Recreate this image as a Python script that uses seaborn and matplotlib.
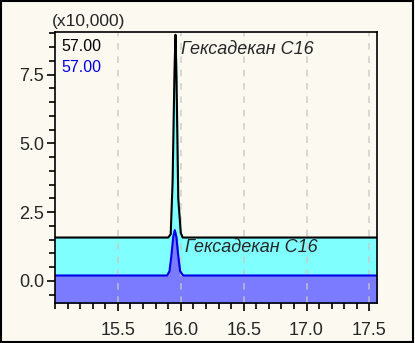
import matplotlib
matplotlib.use("Agg")
import matplotlib.pyplot as plt
import seaborn as sns
import pandas as pd
from matplotlib.ticker import MultipleLocator
from matplotlib.patches import Rectangle

# retention time (min) / intensity (x10,000)
tic_x = [15.00, 15.90, 15.92, 15.935, 15.95, 15.958, 15.966, 15.98, 16.00, 16.015, 17.56]
tic_y = [1.58, 1.58, 1.70, 3.6, 7.6, 8.95, 7.4, 3.0, 1.75, 1.58, 1.58]
mz57_x = [15.00, 15.89, 15.91, 15.925, 15.94, 15.952, 15.965, 15.98, 15.995, 16.02, 17.56]
mz57_y = [0.20, 0.20, 0.35, 0.90, 1.60, 1.85, 1.60, 0.90, 0.35, 0.20, 0.20]
peak_label = "Гексадекан C16"
trace_labels = ["57.00", "57.00"]

bg = "#fcf9f1"
sns.set_style("white")
plt.rcParams["font.family"] = ["Liberation Sans", "DejaVu Sans"]

fig = plt.figure(figsize=(4.15, 3.43), dpi=100, facecolor=bg)
ax = fig.add_axes([0.1325, 0.1166, 0.7759, 0.79])
ax.set_facecolor(bg)

df_tic = pd.DataFrame({"t": tic_x, "i": tic_y})
df_57 = pd.DataFrame({"t": mz57_x, "i": mz57_y})

ax.fill_between(df_tic.t, df_tic.i, -1, color="#80ffff", zorder=1)
ax.fill_between(df_57.t, df_57.i, -1, color="#7b7bff", zorder=2)
sns.lineplot(data=df_tic, x="t", y="i", ax=ax, color="black", lw=1.5, zorder=4)
sns.lineplot(data=df_57, x="t", y="i", ax=ax, color="#0000e6", lw=1.5, zorder=4)

ax.set_xlim(15.0, 17.56)
ax.set_ylim(-0.8, 9.05)
ax.xaxis.set_major_locator(MultipleLocator(0.5))
ax.xaxis.set_minor_locator(MultipleLocator(0.1))
ax.yaxis.set_major_locator(MultipleLocator(2.5))
ax.yaxis.set_minor_locator(MultipleLocator(0.5))
ax.set_xticks([15.5, 16.0, 16.5, 17.0, 17.5])
ax.tick_params(which="major", direction="out", length=6, width=1.2, color="black",
               labelsize=13, left=True, bottom=True, pad=2)
ax.tick_params(which="minor", direction="out", length=4, width=1.2, color="black",
               left=True, bottom=True)
ax.tick_params(axis="x", pad=8)
ax.yaxis.set_major_formatter(matplotlib.ticker.FormatStrFormatter("%.1f"))
ax.xaxis.set_major_formatter(matplotlib.ticker.FormatStrFormatter("%.1f"))
ax.set_xlabel("")
ax.set_ylabel("")
ax.grid(axis="x", which="major", color="#c8c8c8", ls=(0, (4, 4)), lw=1.2, alpha=0.8, zorder=3)
ax.set_axisbelow(False)
for s in ax.spines.values():
    s.set_color("black")
    s.set_linewidth(1.2)
    s.set_zorder(6)

ax.text(0.02, 0.975, trace_labels[0], transform=ax.transAxes, ha="left", va="top",
        fontsize=11.5, color="black")
ax.text(0.02, 0.895, trace_labels[1], transform=ax.transAxes, ha="left", va="top",
        fontsize=11.5, color="#0000e6")
ax.text(16.005, 8.4, peak_label, fontsize=13, style="italic", ha="left", va="center", zorder=5)
ax.text(16.035, 1.2, peak_label, fontsize=13, style="italic", ha="left", va="center", zorder=5)
ax.text(-0.01, 1.01, "(x10,000)", transform=ax.transAxes, ha="left", va="bottom", fontsize=12.5)

fig.patches.append(Rectangle((0.003, 0.004), 0.992, 0.992, transform=fig.transFigure,
                             fill=False, edgecolor="black", lw=1.5))
fig.savefig("out.png", dpi=100, facecolor=bg)
